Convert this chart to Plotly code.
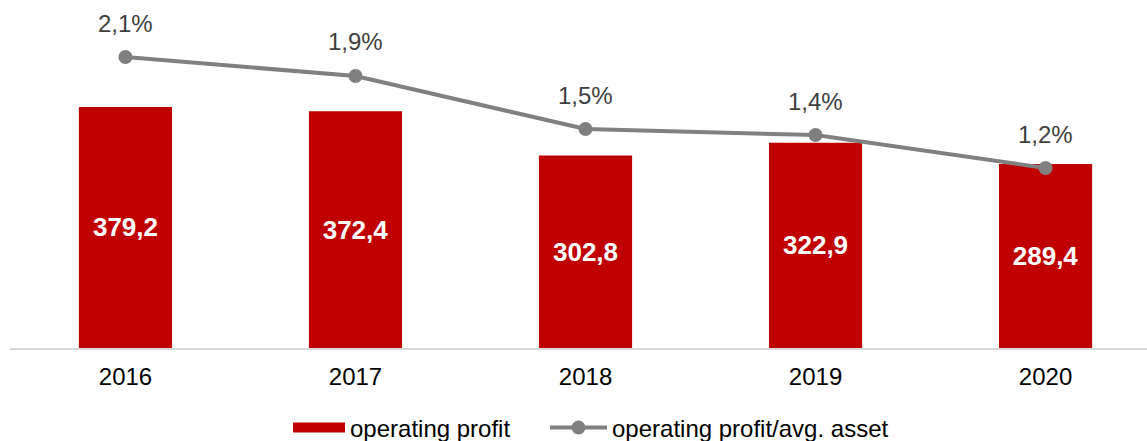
import plotly.graph_objects as go

years = ["2016", "2017", "2018", "2019", "2020"]
operating_profit = [379.2, 372.4, 302.8, 322.9, 289.4]
profit_to_asset = [2.08, 1.922, 1.48, 1.43, 1.155]
bar_name = "operating profit"
line_name = "operating profit/avg. asset"

FONT = "Liberation Sans, Arial, sans-serif"
RED = "#C00000"
GREY = "#808080"

fig = go.Figure()
fig.add_trace(go.Bar(
    x=years, y=operating_profit, name=bar_name, showlegend=False,
    marker=dict(color=RED, line=dict(width=0)),
    width=0.405,
    texttemplate="%{y:.1f}", textposition="inside", insidetextanchor="middle",
    textfont=dict(family=FONT, size=26, color="white", weight="bold"),
    textangle=0,
))
# legend proxy for the bar series (wide swatch like the reference)
fig.add_trace(go.Scatter(
    x=[None], y=[None], name=bar_name, mode="lines",
    line=dict(color=RED, width=14), legend="legend", showlegend=True,
))
fig.add_trace(go.Scatter(
    x=years, y=profit_to_asset, name=line_name,
    yaxis="y2", mode="lines+markers",
    line=dict(color=GREY, width=4),
    marker=dict(color=GREY, size=14),
    legend="legend2",
))

# value labels above the line points (category index positions on the x axis)
for i, v in enumerate(profit_to_asset):
    fig.add_annotation(
        x=i, y=v, xref="x", yref="y2",
        text=f"{v:.1f}%".replace(".", ","),
        showarrow=False, yanchor="middle", yshift=34,
        font=dict(family=FONT, size=24, color="#404040"),
    )

hidden = dict(showgrid=False, showline=False, zeroline=False,
              showticklabels=False, ticks="")
fig.update_layout(
    width=1147, height=441,
    margin=dict(l=10, r=0, t=10, b=93),
    paper_bgcolor="white", plot_bgcolor="white",
    separators=",.",
    font=dict(family=FONT, size=24, color="#000000"),
    showlegend=True,
    legend=dict(orientation="h", xref="container", yref="container",
                x=288 / 1147, xanchor="left", y=13 / 441, yanchor="middle",
                font=dict(family=FONT, size=24, color="#000000"),
                itemwidth=52, bgcolor="rgba(0,0,0,0)"),
    legend2=dict(orientation="h", xref="container", yref="container",
                 x=545 / 1147, xanchor="left", y=13 / 441, yanchor="middle",
                 font=dict(family=FONT, size=24, color="#000000"),
                 itemwidth=57, bgcolor="rgba(0,0,0,0)"),
    xaxis=dict(type="category", range=[-0.502, 4.441], showgrid=False,
               showline=True, linecolor="#D9D9D9", linewidth=2,
               ticks="", ticklabelstandoff=6,
               tickfont=dict(family=FONT, size=24, color="#000000")),
    yaxis=dict(range=[0, 531.8], **hidden),
    yaxis2=dict(range=[-0.345, 2.472], overlaying="y", side="right", **hidden),
)

fig.write_html(
    "out.html",
    config={"displayModeBar": False},
    post_script="document.body.style.margin='0';document.body.style.overflow='hidden';"
                "document.documentElement.style.overflow='hidden';",
)
